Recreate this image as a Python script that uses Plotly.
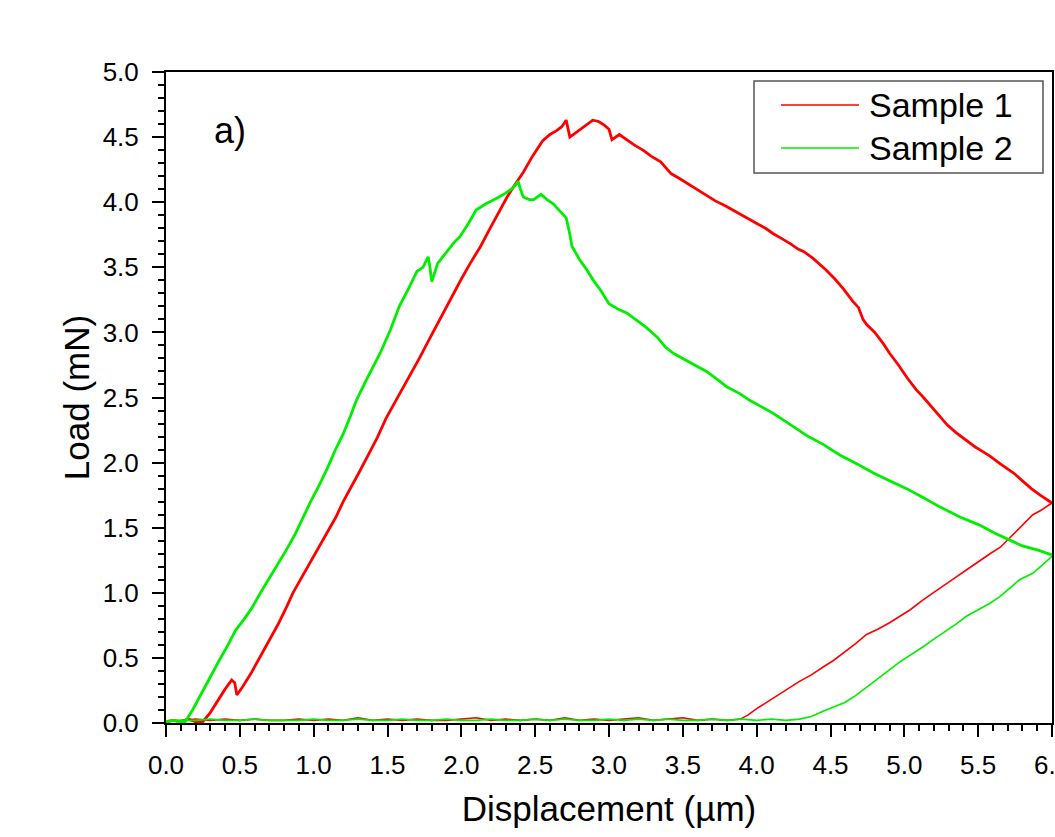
import plotly.graph_objects as go

# ---------------- data ----------------
# Sample 1 (red): approach baseline + loading + post-peak branch
s1_load_x = [0.00, 0.05, 0.10, 0.15, 0.20, 0.25, 0.30, 0.35, 0.40, 0.445, 0.465, 0.48, 0.52, 0.58, 0.64,
             0.70, 0.76, 0.82, 0.86, 0.92, 0.98, 1.04, 1.09, 1.15, 1.20, 1.26, 1.31, 1.37, 1.43, 1.49,
             1.56, 1.62, 1.68, 1.72, 1.78, 1.84, 1.90, 1.945, 2.00, 2.06, 2.13, 2.19, 2.25, 2.31, 2.36,
             2.42, 2.48, 2.55, 2.60, 2.645, 2.68, 2.71, 2.735, 2.77, 2.80, 2.85, 2.89, 2.93, 2.97, 3.00,
             3.02, 3.07, 3.12, 3.17, 3.23, 3.29, 3.35, 3.42, 3.48, 3.55, 3.61, 3.66, 3.72, 3.79, 3.85,
             3.89, 3.95, 4.01, 4.06, 4.11, 4.17, 4.23, 4.28, 4.32, 4.38, 4.43, 4.47, 4.53, 4.59, 4.65,
             4.69, 4.72, 4.745, 4.80, 4.86, 4.90, 4.96, 5.02, 5.08, 5.13, 5.20, 5.25, 5.29, 5.35, 5.42,
             5.48, 5.51, 5.58, 5.65, 5.70, 5.74, 5.80, 5.86, 5.92, 6.00]
s1_load_y = [0.01, 0.02, 0.01, 0.03, 0.01, 0.01, 0.08, 0.17, 0.26, 0.33, 0.31, 0.215, 0.28, 0.39, 0.51,
             0.63, 0.76, 0.90, 1.00, 1.12, 1.24, 1.36, 1.46, 1.58, 1.70, 1.82, 1.93, 2.06, 2.19, 2.34,
             2.48, 2.60, 2.72, 2.81, 2.94, 3.07, 3.20, 3.30, 3.41, 3.53, 3.66, 3.79, 3.92, 4.04, 4.13,
             4.23, 4.35, 4.47, 4.52, 4.55, 4.58, 4.63, 4.50, 4.53, 4.56, 4.60, 4.63, 4.62, 4.59, 4.56,
             4.48, 4.52, 4.48, 4.44, 4.40, 4.35, 4.31, 4.22, 4.18, 4.13, 4.09, 4.05, 4.01, 3.97, 3.93,
             3.91, 3.87, 3.83, 3.80, 3.76, 3.72, 3.68, 3.64, 3.62, 3.57, 3.52, 3.48, 3.41, 3.33, 3.24,
             3.19, 3.10, 3.06, 3.00, 2.91, 2.84, 2.75, 2.65, 2.56, 2.50, 2.41, 2.34, 2.29, 2.23, 2.17,
             2.12, 2.10, 2.05, 1.99, 1.95, 1.92, 1.86, 1.80, 1.75, 1.69]
# Sample 1 (red): unloading + return baseline
s1_unload_x = [6.00, 5.92, 5.87, 5.80, 5.72, 5.65, 5.58, 5.50, 5.42, 5.35, 5.27, 5.195, 5.12, 5.04, 4.97,
               4.90, 4.82, 4.744, 4.67, 4.60, 4.52, 4.45, 4.37, 4.29, 4.21, 4.14, 4.07, 4.00, 3.94, 3.89,
               3.80, 3.70, 3.60, 3.50, 3.40, 3.30, 3.20, 3.10, 3.00, 2.90, 2.80, 2.70, 2.60, 2.50, 2.40,
               2.30, 2.20, 2.10, 2.00, 1.90, 1.80, 1.70, 1.60, 1.50, 1.40, 1.30, 1.20, 1.10, 1.00, 0.90,
               0.80, 0.70, 0.60, 0.50, 0.40, 0.30, 0.20, 0.10, 0.00]
s1_unload_y = [1.69, 1.63, 1.60, 1.52, 1.43, 1.35, 1.30, 1.24, 1.175, 1.12, 1.06, 1.00, 0.94, 0.87, 0.82,
               0.77, 0.72, 0.68, 0.61, 0.55, 0.48, 0.43, 0.37, 0.32, 0.26, 0.21, 0.16, 0.11, 0.06, 0.03,
               0.02, 0.03, 0.02, 0.04, 0.03, 0.02, 0.04, 0.03, 0.02, 0.03, 0.02, 0.04, 0.02, 0.03, 0.02,
               0.03, 0.02, 0.04, 0.03, 0.02, 0.02, 0.03, 0.02, 0.03, 0.02, 0.04, 0.02, 0.03, 0.02, 0.03,
               0.02, 0.02, 0.03, 0.02, 0.03, 0.02, 0.03, 0.02, 0.01]

# Sample 2 (green): approach baseline + loading + post-peak branch
s2_load_x = [0.00, 0.05, 0.10, 0.13, 0.18, 0.24, 0.30, 0.36, 0.42, 0.47, 0.524, 0.58, 0.64, 0.70, 0.75,
             0.81, 0.87, 0.92, 0.975, 1.03, 1.09, 1.14, 1.20, 1.25, 1.29, 1.35, 1.40, 1.45, 1.52, 1.58,
             1.64, 1.70, 1.74, 1.775, 1.785, 1.80, 1.84, 1.90, 1.95, 1.99, 2.05, 2.10, 2.17, 2.24, 2.30,
             2.35, 2.385, 2.40, 2.42, 2.46, 2.49, 2.54, 2.58, 2.62, 2.67, 2.71, 2.73, 2.75, 2.80, 2.85,
             2.90, 2.94, 3.00, 3.06, 3.12, 3.19, 3.25, 3.33, 3.38, 3.435, 3.50, 3.57, 3.66, 3.72, 3.80,
             3.886, 3.95, 4.03, 4.11, 4.19, 4.27, 4.35, 4.45, 4.56, 4.68, 4.79, 4.90, 5.015, 5.13, 5.24,
             5.38, 5.51, 5.61, 5.714, 5.80, 5.90, 6.00]
s2_load_y = [0.01, 0.02, 0.01, 0.01, 0.10, 0.23, 0.36, 0.48, 0.60, 0.71, 0.79, 0.88, 1.00, 1.11, 1.20,
             1.32, 1.44, 1.56, 1.69, 1.81, 1.95, 2.08, 2.22, 2.36, 2.48, 2.62, 2.73, 2.84, 3.02, 3.20,
             3.33, 3.47, 3.50, 3.58, 3.52, 3.39, 3.53, 3.62, 3.69, 3.735, 3.84, 3.94, 3.99, 4.03, 4.07,
             4.11, 4.16, 4.10, 4.04, 4.02, 4.02, 4.06, 4.02, 3.99, 3.93, 3.88, 3.78, 3.66, 3.56, 3.48,
             3.39, 3.33, 3.22, 3.18, 3.15, 3.09, 3.04, 2.96, 2.89, 2.84, 2.80, 2.76, 2.70, 2.65, 2.58,
             2.53, 2.48, 2.43, 2.38, 2.32, 2.26, 2.20, 2.14, 2.06, 1.99, 1.92, 1.86, 1.80, 1.73, 1.66,
             1.58, 1.52, 1.46, 1.405, 1.36, 1.33, 1.29]
# Sample 2 (green): unloading + return baseline
s2_unload_x = [6.00, 5.93, 5.87, 5.78, 5.71, 5.647, 5.58, 5.50, 5.42, 5.35, 5.27, 5.195, 5.12, 5.05, 4.97,
               4.89, 4.82, 4.744, 4.67, 4.60, 4.52, 4.45, 4.37, 4.29, 4.20, 4.10, 4.00, 3.90, 3.80, 3.70,
               3.60, 3.50, 3.40, 3.30, 3.20, 3.10, 3.00, 2.90, 2.80, 2.70, 2.60, 2.50, 2.40, 2.30, 2.20,
               2.10, 2.00, 1.90, 1.80, 1.70, 1.60, 1.50, 1.40, 1.30, 1.20, 1.10, 1.00, 0.90, 0.80, 0.70,
               0.60, 0.50, 0.40, 0.30, 0.20, 0.10, 0.00]
s2_unload_y = [1.28, 1.21, 1.15, 1.10, 1.03, 0.97, 0.92, 0.87, 0.82, 0.76, 0.70, 0.64, 0.58, 0.53, 0.47,
               0.40, 0.34, 0.28, 0.21, 0.16, 0.125, 0.09, 0.05, 0.03, 0.02, 0.03, 0.02, 0.03, 0.02, 0.03,
               0.02, 0.02, 0.03, 0.02, 0.03, 0.02, 0.03, 0.02, 0.02, 0.03, 0.02, 0.03, 0.02, 0.02, 0.03,
               0.02, 0.02, 0.03, 0.02, 0.02, 0.03, 0.02, 0.02, 0.03, 0.02, 0.02, 0.03, 0.02, 0.02, 0.02,
               0.03, 0.02, 0.02, 0.03, 0.02, 0.02, 0.01]

series_names = ["Sample 1", "Sample 2"]
series_colors = ["#ff0000", "#00ee00"]

x_ticks = [0.0, 0.5, 1.0, 1.5, 2.0, 2.5, 3.0, 3.5, 4.0, 4.5, 5.0, 5.5, 6.0]
y_ticks = [0.0, 0.5, 1.0, 1.5, 2.0, 2.5, 3.0, 3.5, 4.0, 4.5, 5.0]

FONT = "Liberation Sans, Arial, sans-serif"

fig = go.Figure()
for name, color, lx, ly, ux, uy in [
    (series_names[0], series_colors[0], s1_load_x, s1_load_y, s1_unload_x, s1_unload_y),
    (series_names[1], series_colors[1], s2_load_x, s2_load_y, s2_unload_x, s2_unload_y),
]:
    fig.add_trace(go.Scatter(x=lx, y=ly, mode="lines", name=name, legendgroup=name,
                             line=dict(color=color, width=2.8), showlegend=False, cliponaxis=True))
    fig.add_trace(go.Scatter(x=ux, y=uy, mode="lines", name=name, legendgroup=name,
                             line=dict(color=color, width=1.6), showlegend=False, cliponaxis=True))

axis_common = dict(
    showline=True, linecolor="black", linewidth=2, mirror=True,
    ticks="outside", ticklen=12, tickwidth=2, tickcolor="black",
    showgrid=False, zeroline=False, automargin=False,
    tickfont=dict(family=FONT, size=26, color="black"),
    minor=dict(ticks="outside", ticklen=6, tickwidth=2, tickcolor="black", dtick=0.1, showgrid=False),
    tickformat=".1f", ticklabeloverflow="allow",
)

fig.update_xaxes(range=[0, 6.0], tickvals=x_ticks, ticklabelstandoff=6,
                 title=dict(text="Displacement (µm)", font=dict(family=FONT, size=35, color="black"), standoff=17),
                 **axis_common)
fig.update_yaxes(range=[0, 5.0], tickvals=y_ticks, ticklabelstandoff=8,
                 title=dict(text="Load (mN)", font=dict(family=FONT, size=35, color="black"), standoff=2),
                 **axis_common)

# custom legend (box, sample lines, labels) in paper coordinates
L, R, T, B = 166, 1052, 72, 723
W, H = R - L, B - T
def px(xp):
    return (xp - L) / W
def py(yp):
    return (B - yp) / H

shapes = [dict(type="rect", xref="paper", yref="paper", x0=px(754), x1=px(1043), y0=py(173), y1=py(81),
               line=dict(color="#555555", width=1.5), fillcolor="white", layer="below")]
for i, (name, color) in enumerate(zip(series_names, series_colors)):
    ly = 105 + i * 43
    shapes.append(dict(type="line", xref="paper", yref="paper", x0=px(781), x1=px(859), y0=py(ly), y1=py(ly),
                       line=dict(color=color, width=1.5)))
annotations = []
for i, name in enumerate(series_names):
    ly = 105 + i * 43
    annotations.append(dict(text=name, xref="paper", yref="paper", x=px(867), y=py(ly), xanchor="left",
                            yanchor="middle", showarrow=False, font=dict(family=FONT, size=34, color="black")))
annotations.append(dict(text="a)", xref="paper", yref="paper", x=px(230), y=py(130), xanchor="center",
                        yanchor="middle", showarrow=False, font=dict(family=FONT, size=36, color="black")))

fig.update_layout(
    width=1055, height=837,
    margin=dict(l=L, r=1055 - R, t=T, b=837 - B, autoexpand=False),
    paper_bgcolor="white", plot_bgcolor="white",
    showlegend=False,
    shapes=shapes, annotations=annotations,
    font=dict(family=FONT, color="black"),
)

fig.write_html("out.html", config={"displayModeBar": False},
               post_script="document.body.style.margin='0px';document.body.style.overflow='hidden';")
